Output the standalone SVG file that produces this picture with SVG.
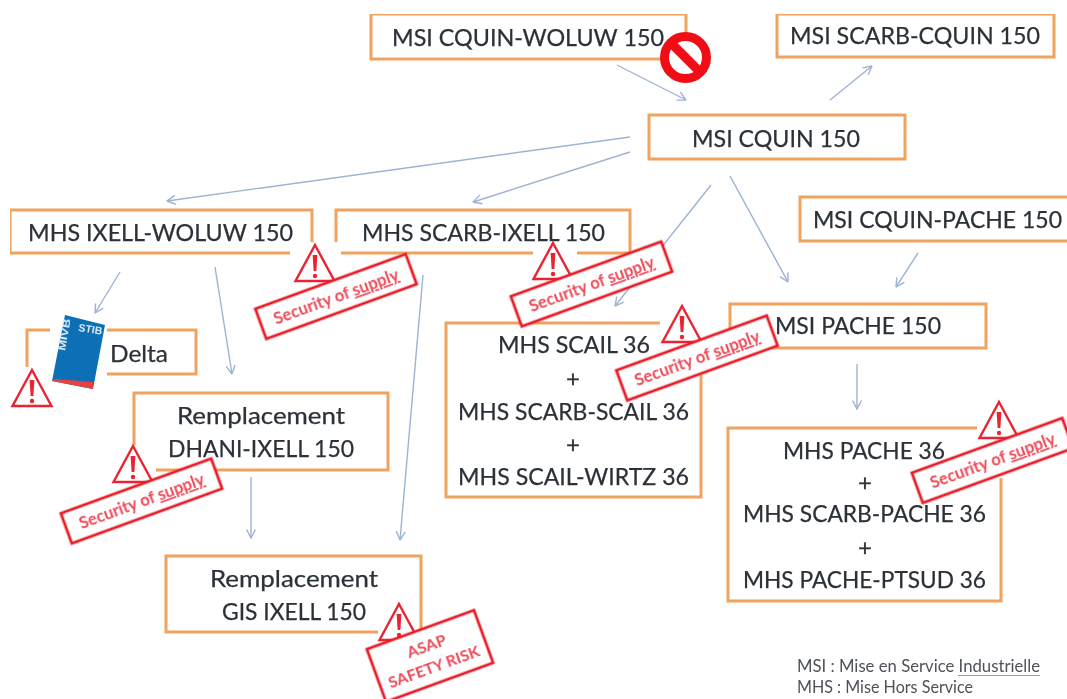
<svg xmlns="http://www.w3.org/2000/svg" width="1067" height="699" viewBox="0 0 1067 699">
<style>
.b{fill:none;stroke:#f0a35e;stroke-width:3}
.t{font-family:"Lato","Liberation Sans",sans-serif;font-size:24px;fill:#2b3138;stroke:#2b3138;stroke-width:.25;text-anchor:middle}
.l{font-family:"Lato","Liberation Sans",sans-serif;font-size:16.500px;fill:#4d5258}
.c path{fill:none;stroke:#9db3d3;stroke-width:1.4;marker-end:url(#a)}
.s{fill:#fff;stroke:#ea1c28;stroke-width:2.8}
.st{font-family:"Lato","Liberation Sans",sans-serif;font-size:17px;font-weight:700;fill:#ee4a58;text-anchor:middle}
.tr{fill:#fff;stroke:#ea2430;stroke-width:2.4;stroke-linejoin:miter}
.ex{fill:#ea2430}
.bt{font-family:"Liberation Sans",sans-serif;font-size:10.500px;font-weight:700;fill:#d6e7f5}
</style>
<defs>
<marker id="a" viewBox="0 0 10 12" refX="9.500" refY="6" markerWidth="10" markerHeight="12" orient="auto" markerUnits="userSpaceOnUse"><path d="M1 1.500L9.500 6L1 10.500" fill="none" stroke="#9db3d3" stroke-width="1.4"/></marker>
<g id="warn"><path class="tr" d="M0 0L19.500 36H-19.500Z"/><path class="ex" d="M-2.400 10H2.400L1.400 26H-1.400Z"/><circle class="ex" cy="31" r="2.200"/></g>
<g id="sec"><rect class="s" x="-80" y="-16" width="160" height="32"/><text class="st" y="6" textLength="132" lengthAdjust="spacingAndGlyphs">Security of <tspan text-decoration="underline">supply</tspan></text></g>
<filter id="soft" x="0" y="0" width="100%" height="100%"><feGaussianBlur stdDeviation="0.5"/></filter>
</defs>
<rect width="1067" height="699" fill="#fff"/>
<g filter="url(#soft)">
<g id="n1"><rect class="b" x="371" y="14" width="315" height="45"/><text class="t" x="528" y="46" textLength="272" lengthAdjust="spacingAndGlyphs">MSI CQUIN-WOLUW 150</text></g>
<g id="n2"><rect class="b" x="777" y="14" width="277" height="43"/><text class="t" x="915" y="44" textLength="250" lengthAdjust="spacingAndGlyphs">MSI SCARB-CQUIN 150</text></g>
<g id="n3"><rect class="b" x="649" y="115" width="256" height="44"/><text class="t" x="776" y="147" textLength="168" lengthAdjust="spacingAndGlyphs">MSI CQUIN 150</text></g>
<g id="n4"><path class="b" d="M312 242V210H10V253H290"/><text class="t" x="160.500" y="241" textLength="265" lengthAdjust="spacingAndGlyphs">MHS IXELL-WOLUW 150</text></g>
<g id="n5"><path class="b" d="M336 242V210H630V253H577M533 253H341"/><text class="t" x="483.500" y="241" textLength="243" lengthAdjust="spacingAndGlyphs">MHS SCARB-IXELL 150</text></g>
<g id="n6"><path class="b" d="M1067 197H800V241H1067"/><text class="t" x="937.500" y="228" style="font-size:22.500px" textLength="249" lengthAdjust="spacingAndGlyphs">MSI CQUIN-PACHE 150</text></g>
<g id="n7"><rect class="b" x="730" y="304" width="256" height="44"/><text class="t" x="858" y="334" textLength="166" lengthAdjust="spacingAndGlyphs">MSI PACHE 150</text></g>
<g id="n8"><path class="b" d="M660 323H446V497H701V375"/>
<text class="t" x="574" y="353" textLength="152" lengthAdjust="spacingAndGlyphs">MHS SCAIL 36</text><text class="t" x="573" y="387">+</text>
<text class="t" x="573.500" y="420" textLength="231" lengthAdjust="spacingAndGlyphs">MHS SCARB-SCAIL 36</text><text class="t" x="573" y="453">+</text>
<text class="t" x="573.500" y="485" textLength="231" lengthAdjust="spacingAndGlyphs">MHS SCAIL-WIRTZ 36</text></g>
<g id="n9"><path class="b" d="M977 428H728V601H1001V478"/>
<text class="t" x="864" y="459" textLength="162" lengthAdjust="spacingAndGlyphs">MHS PACHE 36</text><text class="t" x="865" y="491">+</text>
<text class="t" x="864.500" y="522" textLength="243" lengthAdjust="spacingAndGlyphs">MHS SCARB-PACHE 36</text><text class="t" x="865" y="556">+</text>
<text class="t" x="864.500" y="588" textLength="243" lengthAdjust="spacingAndGlyphs">MHS PACHE-PTSUD 36</text></g>
<g id="n10"><path class="b" d="M134 445V393H388V470H156"/><text class="t" x="261" y="424" textLength="168" lengthAdjust="spacingAndGlyphs">Remplacement</text><text class="t" x="261" y="457" textLength="186" lengthAdjust="spacingAndGlyphs">DHANI-IXELL 150</text></g>
<g id="n11"><path class="b" d="M378 632H166V556H421V630"/><text class="t" x="294" y="587" textLength="168" lengthAdjust="spacingAndGlyphs">Remplacement</text><text class="t" x="294" y="620" textLength="144" lengthAdjust="spacingAndGlyphs">GIS IXELL 150</text></g>
<g id="n12"><path class="b" d="M50 330H27V367M107 330H196V374H107"/><text class="t" x="139" y="362" textLength="58" lengthAdjust="spacingAndGlyphs">Delta</text></g>
<g id="connectors" class="c">
<path d="M617 65L686 100"/><path d="M830 100L872 66"/><path d="M630 137L167 201"/><path d="M630 152L473 202"/>
<path d="M711 185L615 306"/><path d="M730 176L788 282"/><path d="M918 253L896 287"/><path d="M120 272L95 313"/>
<path d="M215 267L232 374"/><path d="M423 275L400 540"/><path d="M857 364V409"/><path d="M251 477V538"/>
</g>
<g id="bus"><path d="M65 315L105 325L93 389L52 381Z" fill="#0f70b7"/><path d="M55 379L93 382L93 389L52 381Z" fill="#e5423f"/>
<text class="bt" transform="translate(78 331) rotate(9)">STIB</text>
<text class="bt" transform="translate(65 351) rotate(-80)" textLength="32" lengthAdjust="spacingAndGlyphs">MIVB</text></g>
<g id="no-entry"><circle cx="685.500" cy="57.500" r="21" fill="#fff" stroke="#f00d14" stroke-width="9"/><path d="M671 43L700 72" stroke="#f00d14" stroke-width="9"/></g>
<use href="#warn" x="315" y="245"/><use href="#warn" x="553" y="243"/><use href="#warn" x="682" y="306"/><use href="#warn" x="133" y="446"/><use href="#warn" x="999" y="402"/><use href="#warn" x="399" y="604"/><use href="#warn" x="32" y="370"/>
<use href="#sec" transform="translate(336 296.500) rotate(-20)"/>
<use href="#sec" transform="translate(591.500 284) rotate(-20)"/>
<use href="#sec" transform="translate(697 358) rotate(-20)"/>
<use href="#sec" transform="translate(141.500 501) rotate(-20)"/>
<use href="#sec" transform="translate(992.500 460.500) rotate(-20)"/>
<g id="asap" transform="translate(430 656) rotate(-20)"><rect class="s" x="-57" y="-28" width="114" height="56"/><text class="st" y="-5" style="font-size:16px">ASAP</text><text class="st" y="17" style="font-size:16px">SAFETY RISK</text></g>
<g id="legend"><text class="l" x="797" y="672" textLength="243" lengthAdjust="spacingAndGlyphs">MSI : Mise en Service Industrielle</text><path d="M958 675.500H1040" stroke="#e67a8a" stroke-width="1.200"/><text class="l" x="797" y="693" textLength="176" lengthAdjust="spacingAndGlyphs">MHS : Mise Hors Service</text></g>
</g>
</svg>
